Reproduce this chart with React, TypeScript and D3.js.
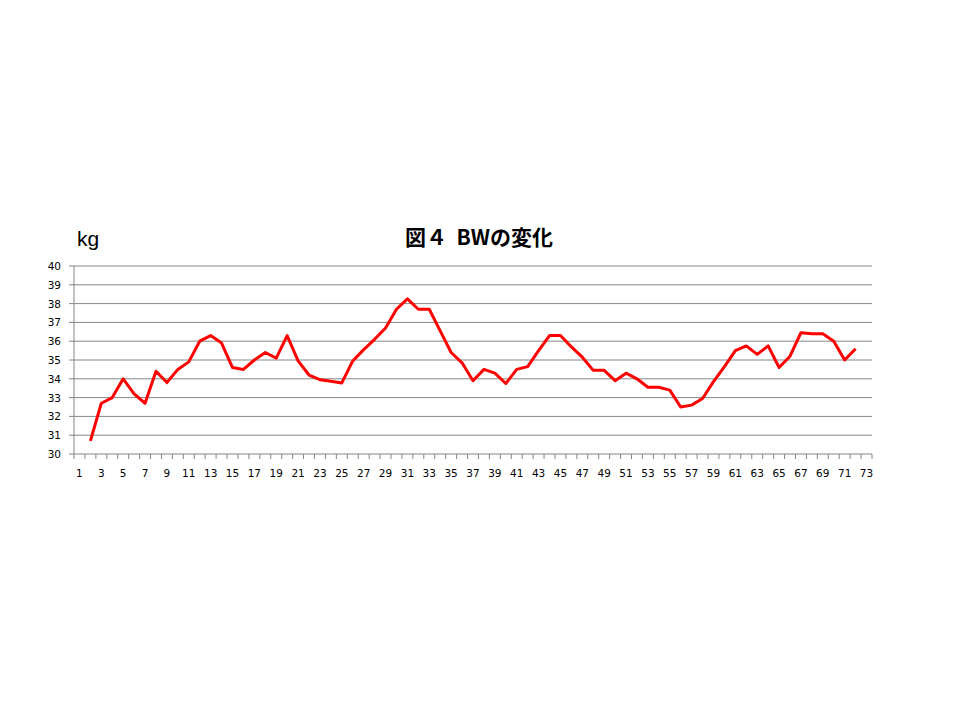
import React from "react";
import * as d3 from "d3";

const categories: number[] = d3.range(1, 74);
const xLabels: number[] = categories.filter((c) => c % 2 === 1);
const yTicks: number[] = d3.range(30, 41);
const bwDays: number[] = d3.range(2, 73);
const bwValues: number[] = [
  30.7, 32.7, 33.0, 34.0, 33.2, 32.7, 34.4, 33.8, 34.5, 34.9,
  36.0, 36.3, 35.9, 34.6, 34.5, 35.0, 35.4, 35.1, 36.3, 34.95,
  34.2, 33.95, 33.87, 33.78, 34.95, 35.55, 36.1, 36.7, 37.7, 38.25,
  37.7, 37.7, 36.55, 35.4, 34.85, 33.9, 34.5, 34.3, 33.75, 34.5,
  34.65, 35.5, 36.3, 36.3, 35.7, 35.15, 34.45, 34.45, 33.9, 34.3,
  34.0, 33.55, 33.55, 33.4, 32.5, 32.6, 32.95, 33.85, 34.65, 35.5,
  35.75, 35.3, 35.75, 34.6, 35.2, 36.45, 36.4, 36.4, 36.0, 35.0,
  35.6,
];

export default function App() {
  const left = 74;
  const right = 872;
  const top = 266;
  const bottom = 454;

  const x = d3
    .scaleBand<number>()
    .domain(categories)
    .range([left, right]);
  const y = d3.scaleLinear().domain([30, 40]).range([bottom, top]);
  const cx = (c: number) => (x(c) as number) + x.bandwidth() / 2;

  const line = d3
    .line<number>()
    .x((_, i) => cx(bwDays[i]))
    .y((v) => y(v));

  const grid = "#868686";
  const tickFont = "'DejaVu Sans', Verdana, sans-serif";

  return (
    <svg
      width={960}
      height={720}
      style={{ position: "absolute", left: 0, top: 0, background: "#fff" }}
    >
      <rect x={0} y={0} width={960} height={720} fill="#fff" />
      {/* title */}
      <text
        x={479}
        y={245}
        textAnchor="middle"
        fontFamily="'Noto Sans CJK JP', sans-serif"
        fontWeight="bold"
        fontSize={21}
        fill="#000"
        style={{ whiteSpace: "pre" }}
      >
        {"図４  BWの変化"}
      </text>
      <text
        x={77}
        y={246}
        fontFamily="'Liberation Sans', Arial, sans-serif"
        fontSize={21}
        fill="#000"
      >
        kg
      </text>
      {/* grid lines */}
      {yTicks.map((t) => (
        <line
          key={"g" + t}
          x1={left}
          x2={right}
          y1={y(t)}
          y2={y(t)}
          stroke={grid}
          strokeWidth={1}
        />
      ))}
      {/* y axis */}
      <line x1={left} x2={left} y1={top} y2={bottom} stroke={grid} strokeWidth={1} />
      {yTicks.map((t) => (
        <line
          key={"yt" + t}
          x1={left - 5}
          x2={left}
          y1={y(t)}
          y2={y(t)}
          stroke={grid}
          strokeWidth={1}
        />
      ))}
      {yTicks.map((t) => (
        <text
          key={"yl" + t}
          x={61}
          y={y(t) + 4}
          textAnchor="end"
          fontFamily={tickFont}
          fontSize={10.5}
          fill="#000"
        >
          {t}
        </text>
      ))}
      {/* x axis ticks */}
      {categories.concat([categories.length + 1]).map((c, i) => {
        const xx = left + i * x.bandwidth();
        return (
          <line
            key={"xt" + c}
            x1={xx}
            x2={xx}
            y1={bottom}
            y2={bottom + 5}
            stroke={grid}
            strokeWidth={1}
          />
        );
      })}
      {xLabels.map((c) => (
        <text
          key={"xl" + c}
          x={cx(c)}
          y={477}
          textAnchor="middle"
          fontFamily={tickFont}
          fontSize={10.5}
          fill="#000"
        >
          {c}
        </text>
      ))}
      {/* data line */}
      <path
        d={line(bwValues) || ""}
        fill="none"
        stroke="#ff0000"
        strokeWidth={3}
        strokeLinejoin="round"
      />
    </svg>
  );
}
